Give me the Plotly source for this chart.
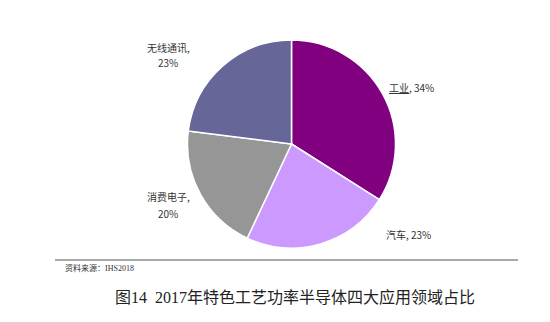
import plotly.graph_objects as go

# Application segments of specialty-process power semiconductors, 2017
segments = ["工业", "汽车", "消费电子", "无线通讯"]
shares = [34, 23, 20, 23]
colors = ["#800080", "#CC99FF", "#969696", "#666699"]

title_text = "图14  2017年特色工艺功率半导体四大应用领域占比"
source_text = "资料来源：IHS2018"

W, H = 550, 322

fig = go.Figure(
    go.Pie(
        labels=segments,
        values=shares,
        sort=False,
        direction="clockwise",
        rotation=0,
        marker=dict(colors=colors, line=dict(color="white", width=1.5)),
        textinfo="none",
        hoverinfo="label+percent",
        domain=dict(x=[(291.5 - 104) / W, (291.5 + 104) / W],
                    y=[(H - 248) / H, (H - 40) / H]),
        showlegend=False,
    )
)

label_font = dict(family="Noto Sans CJK SC, Noto Sans", size=10, color="#333333")

# data label placement (pixels, top-left origin); stacked labels put the
# percentage on a second line below the name
label_pos = {
    "工业": (411, 87, None),
    "汽车": (408, 234, None),
    "消费电子": (168, 196, 213),
    "无线通讯": (168, 47, 63),
}


def add_label(px, py, text):
    annotations.append(dict(
        x=px / W, y=1 - py / H, xref="paper", yref="paper",
        text=text, showarrow=False, font=label_font,
        xanchor="center", yanchor="middle", align="center",
    ))


annotations = []
for name, val in zip(segments, shares):
    px, py, py2 = label_pos[name]
    disp = f"<u>{name}</u>" if name == "工业" else name
    if py2 is None:
        add_label(px, py, f"{disp}, {val}%")
    else:
        add_label(px, py, f"{disp},")
        add_label(px, py2, f"{val}%")

annotations.append(dict(
    x=63 / W, y=1 - 268 / H, xref="paper", yref="paper",
    text=source_text, showarrow=False,
    font=dict(family="Liberation Serif, Noto Sans CJK SC", size=8, color="#333333"),
    xanchor="left", yanchor="middle",
))
annotations.append(dict(
    x=295 / W, y=1 - 297 / H, xref="paper", yref="paper",
    text=title_text, showarrow=False,
    font=dict(family="Liberation Serif, Noto Sans CJK SC", size=16, color="#222222"),
    xanchor="center", yanchor="middle",
))

fig.update_layout(
    width=W, height=H,
    margin=dict(l=0, r=0, t=0, b=0),
    paper_bgcolor="white",
    plot_bgcolor="white",
    annotations=annotations,
    shapes=[dict(type="line", xref="paper", yref="paper",
                 x0=55 / W, x1=518 / W, y0=1 - 260 / H, y1=1 - 260 / H,
                 line=dict(color="#8c8c8c", width=1.5))],
)

fig.write_html("out.html")
